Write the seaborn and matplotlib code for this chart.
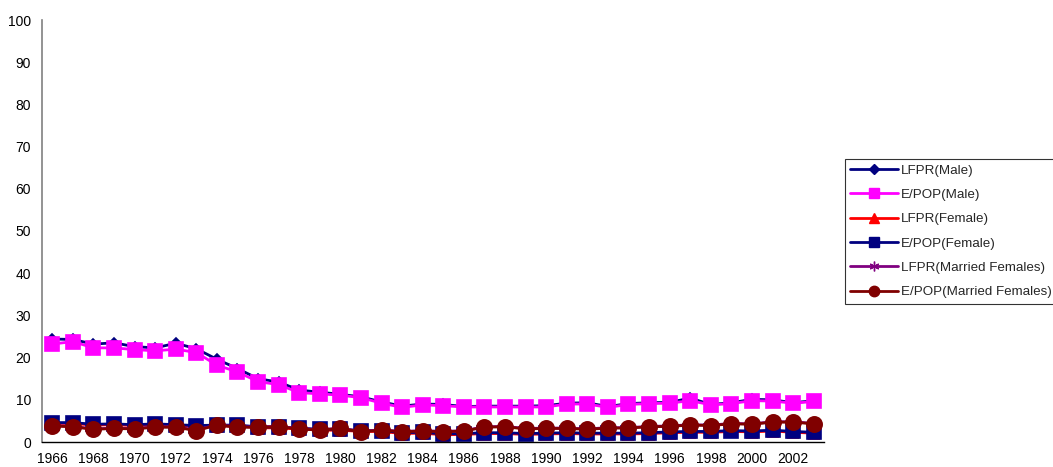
import numpy as np
import pandas as pd
import matplotlib
matplotlib.use("Agg")
import matplotlib.pyplot as plt
from matplotlib.lines import Line2D
import seaborn as sns

years = list(range(1966, 2004))

lfpr_male = [24.4, 24.3, 23.2, 23.5, 22.6, 22.3, 23.4, 22.1, 19.6, 17.4, 15.0, 14.2, 12.3,
             11.8, 11.3, 10.7, 9.5, 8.5, 9.0, 8.9, 8.4, 8.5, 8.5, 8.5, 8.6, 9.2, 9.3, 8.4,
             9.1, 9.3, 9.4, 10.4, 8.9, 9.3, 10.1, 10.0, 9.3, 9.8]
epop_male = [23.2, 23.8, 22.3, 22.3, 21.9, 21.6, 22.0, 21.2, 18.2, 16.6, 14.3, 13.6, 11.7,
             11.4, 11.1, 10.5, 9.2, 8.2, 8.8, 8.6, 8.3, 8.3, 8.3, 8.3, 8.3, 9.0, 9.0, 8.2,
             8.9, 9.1, 9.2, 9.8, 8.8, 9.1, 9.8, 9.7, 9.2, 9.6]
lfpr_female = [4.4, 4.4, 4.0, 4.1, 3.9, 4.1, 3.9, 3.7, 3.8, 3.8, 3.4, 3.3, 3.1, 2.8, 2.8,
               2.5, 2.5, 2.0, 2.1, 1.7, 1.8, 2.0, 2.0, 1.8, 1.9, 2.0, 1.9, 1.9, 1.9, 2.0,
               2.2, 2.3, 2.3, 2.5, 2.4, 2.6, 2.3, 2.1]
epop_female = [4.6, 4.6, 4.2, 4.3, 4.1, 4.3, 4.1, 3.9, 4.0, 4.0, 3.6, 3.5, 3.3, 3.0, 3.0,
               2.7, 2.7, 2.2, 2.3, 1.9, 2.0, 2.2, 2.2, 2.0, 2.1, 2.2, 2.1, 2.1, 2.1, 2.2,
               2.4, 2.5, 2.5, 2.7, 2.6, 2.8, 2.5, 2.3]
lfpr_married = [3.9, 3.7, 3.1, 3.3, 3.2, 3.6, 3.6, 2.8, 4.1, 3.6, 3.6, 3.7, 3.2, 2.9, 3.3,
                2.5, 2.9, 2.5, 2.7, 2.5, 2.7, 3.6, 3.7, 3.2, 3.3, 3.3, 3.1, 3.4, 3.4, 3.7,
                3.8, 4.1, 4.0, 4.4, 4.3, 4.8, 4.8, 4.4]
epop_married = [3.8, 3.6, 3.0, 3.2, 3.1, 3.5, 3.5, 2.7, 4.0, 3.5, 3.5, 3.6, 3.1, 2.8, 3.2,
                2.4, 2.8, 2.4, 2.6, 2.4, 2.6, 3.5, 3.6, 3.1, 3.2, 3.2, 3.0, 3.3, 3.3, 3.6,
                3.7, 4.0, 3.9, 4.3, 4.2, 4.7, 4.7, 4.3]

series_names = ["LFPR(Male)", "E/POP(Male)", "LFPR(Female)", "E/POP(Female)",
                "LFPR(Married Females)", "E/POP(Married Females)"]
series_values = [lfpr_male, epop_male, lfpr_female, epop_female, lfpr_married, epop_married]

y_ticks = list(range(0, 101, 10))
x_tick_years = years[::2]

# Styles: colour, marker, plot marker size, legend marker size
styles = {
    "LFPR(Male)": ("#000080", "D", 5.5, 5.5),
    "E/POP(Male)": ("#FF00FF", "s", 10.5, 7),
    "LFPR(Female)": ("#FF0000", "^", 9, 7),
    "E/POP(Female)": ("#000080", "s", 10.5, 7),
    "LFPR(Married Females)": ("#800080", (6, 2, 0), 9, 7),
    "E/POP(Married Females)": ("#800000", "o", 11, 7.5),
}

df = pd.DataFrame({"year": years})
for name, vals in zip(series_names, series_values):
    df[name] = vals

sns.set_style("white")
plt.rcParams["font.family"] = ["Liberation Sans", "DejaVu Sans"]

W, H = 1053, 467
fig = plt.figure(figsize=(W / 100, H / 100), dpi=100)
ax = fig.add_axes([42 / W, (H - 442) / H, 782 / W, 422 / H])

for name in series_names:
    color, marker, ms, _ = styles[name]
    sns.lineplot(data=df, x="year", y=name, ax=ax, color=color, linewidth=2.0,
                 marker=marker, markersize=ms, markeredgecolor=color,
                 markeredgewidth=1.2, legend=False)

ax.set_xlim(1965.5, 2003.5)
ax.set_ylim(0, 100)
ax.set_xlabel("")
ax.set_ylabel("")

ax.set_yticks(y_ticks)
ax.set_xticks(x_tick_years)
ax.set_xticks(np.arange(1965.5, 2004, 1.0), minor=True)
ax.tick_params(axis="x", which="major", length=0, pad=7, labelsize=10, colors="black")
ax.tick_params(axis="x", which="minor", length=5, width=1, direction="out", color="black")
ax.tick_params(axis="y", which="major", length=5, width=1, direction="out",
               color="#808080", labelcolor="black", labelsize=10, pad=3)
ax.grid(False)

for s in ["top", "right"]:
    ax.spines[s].set_visible(False)
ax.spines["left"].set_color("#808080")
ax.spines["left"].set_linewidth(1.2)
ax.spines["bottom"].set_color("black")
ax.spines["bottom"].set_linewidth(1.0)

handles = []
for name in series_names:
    color, marker, _, lms = styles[name]
    handles.append(Line2D([], [], color=color, linewidth=2.0, marker=marker,
                          markersize=lms, markeredgecolor=color, markeredgewidth=1.0))

leg = fig.legend(handles, series_names, loc="upper left",
                 bbox_to_anchor=(845 / W, 1 - 159 / H), frameon=True, fancybox=False,
                 fontsize=9.6, handlelength=3.6, handletextpad=0.2, labelspacing=0.9,
                 borderpad=0.4, borderaxespad=0.0)
leg.get_frame().set_edgecolor("black")
leg.get_frame().set_linewidth(0.8)

fig.savefig("out.png", dpi=100)
